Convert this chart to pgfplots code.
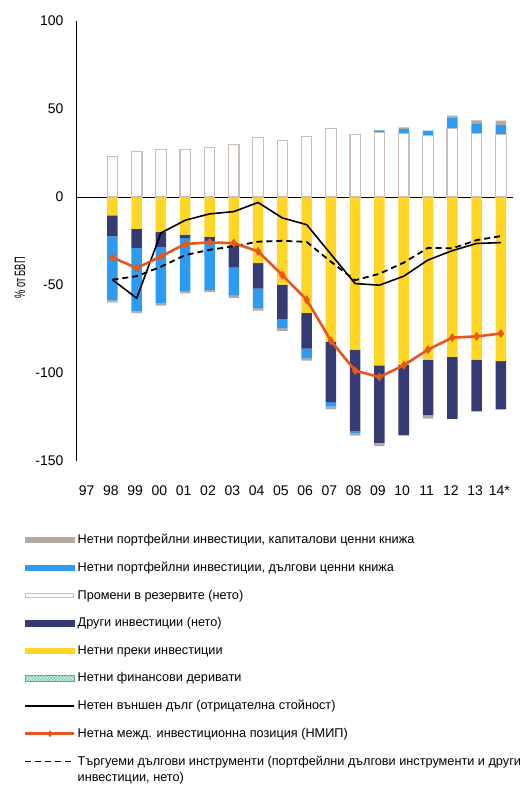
\documentclass[border=0pt]{standalone}
\usepackage{fontspec}
\setmainfont{Liberation Sans}
\usepackage{pgfplots}
\usepackage{pgfplotstable}
\pgfplotsset{compat=1.18}
\usetikzlibrary{patterns}

\definecolor{fdi}{HTML}{FFD624}
\definecolor{other}{HTML}{363B73}
\definecolor{debt}{HTML}{2E9BF2}
\definecolor{equity}{HTML}{B4AAA4}
\definecolor{resline}{HTML}{C9BEB9}
\definecolor{niip}{HTML}{E8561E}
\definecolor{deriv}{HTML}{7DD3B0}

% negative parts of the bars, 0 = 1997 ... 17 = 2014
\pgfplotstableread{
x fdi other debt equity
1 -10.5 -11.8 -36.5 -1.1
2 -18.1 -10.8 -36.1 -1.0
3 -20.0 -8.3 -31.9 -1.5
4 -21.4 -1.9 -30.2 -1.3
5 -22.7 -2.5 -27.5 -1.3
6 -27.0 -12.8 -16.3 -1.2
7 -37.5 -14.6 -11.0 -1.5
8 -49.8 -19.4 -5.3 -1.5
9 -65.9 -20.3 -5.3 -1.5
10 -82.3 -34.3 -2.5 -1.5
11 -86.7 -46.2 -1.2 -1.5
12 -95.6 -44.1 0 -1.9
13 -95.2 -40.3 0 0
14 -92.4 -31.6 0 -1.9
15 -90.9 -35.1 0 0
16 -92.4 -29.4 0 0
17 -93.2 -27.5 0 0
}\negtable

% positive parts
\pgfplotstableread{
x res debt equity
1 22.9 0 0
2 25.9 0 0
3 27.2 0 0
4 27.2 0 0
5 28.0 0 0
6 29.9 0 0
7 33.8 0 0
8 31.9 0 0
9 34.3 0 0
10 39.1 0 0
11 35.7 0 0
12 36.6 1.2 0
13 36.3 2.3 0.9
14 34.9 2.8 0
15 38.7 6.1 1.5
16 36.3 5.3 1.9
17 35.7 5.1 2.6
}\postable

% lines
\pgfplotstableread{
x ned niip tdi
1 -47.0 -34.3 -47.0
2 -57.5 -40.4 -45.0
3 -20.4 -33.7 -39.6
4 -13.2 -26.7 -33.0
5 -9.6 -25.8 -30.0
6 -8.3 -26.2 -28.0
7 -3.1 -30.9 -25.4
8 -11.9 -44.4 -24.9
9 -15.7 -58.4 -25.5
10 -32.5 -81.7 -36.8
11 -49.2 -98.7 -47.3
12 -50.1 -102.3 -43.6
13 -45.0 -95.6 -37.3
14 -35.8 -86.7 -28.9
15 -30.5 -79.9 -29.2
16 -26.4 -79.2 -24.5
17 -25.9 -77.6 -22.2
}\linetable

\pgfplotsset{
  base/.style={
    scale only axis, width=437pt, height=440pt,
    xmin=-0.5, xmax=17.5, ymin=-150, ymax=100,
    clip=false,
  },
}

\begin{document}
\begin{tikzpicture}[x=1pt,y=1pt]
\useasboundingbox (-76,-324) rectangle (448,461);

% negative stacks, axes and legend
\begin{axis}[base,
  ybar stacked, bar width=10.5pt,
  axis y line*=left, axis x line*=bottom,
  x axis line style={draw=none},
  y axis line style={line width=0.9pt},
  major tick length=0pt,
  xtick={0,...,17},
  xticklabels={97,98,99,00,01,02,03,04,05,06,07,08,09,10,11,12,13,14*},
  ytick={-150,-100,-50,0,50,100},
  extra y ticks={0}, extra y tick labels={},
  extra y tick style={grid=major, major grid style={black, line width=0.9pt}},
  tick label style={font=\fontsize{14}{16}\selectfont},
  /pgf/number format/assume math mode=true,
  yticklabel style={xshift=-9pt},
  xticklabel style={yshift=-21pt, xshift=-1.5pt},
  ylabel={\% от БВП},
  every axis y label/.style={at={(axis description cs:-0.128,0.416)}, anchor=center,
    rotate=90, xscale=0.62, font=\fontsize{15}{17}\selectfont},
  legend cell align=left,
  legend style={at={(axis description cs:-0.119,-0.1614)}, anchor=north west,
    draw=none, fill=none, inner sep=0pt, row sep=13pt,
    font=\fontsize{12.7}{15.6}\selectfont, nodes={inner sep=2pt}},
]
\addplot[fill=fdi, draw=none, forget plot] table[x=x, y=fdi] {\negtable};
\addplot[fill=other, draw=none, forget plot] table[x=x, y=other] {\negtable};
\addplot[fill=debt, draw=none, forget plot] table[x=x, y=debt] {\negtable};
\addplot[fill=equity, draw=none, forget plot] table[x=x, y=equity] {\negtable};

\addlegendimage{legend image code/.code={\fill[equity] (0pt,-2.8pt) rectangle (49pt,2.8pt);}}
\addlegendentry{Нетни портфейлни инвестиции, капиталови ценни книжа}
\addlegendimage{legend image code/.code={\fill[debt] (0pt,-2.8pt) rectangle (49pt,2.8pt);}}
\addlegendentry{Нетни портфейлни инвестиции, дългови ценни книжа}
\addlegendimage{legend image code/.code={\draw[draw=resline, fill=white, line width=1pt] (0.5pt,-2.3pt) rectangle (48.5pt,2.3pt);}}
\addlegendentry{Промени в резервите (нето)}
\addlegendimage{legend image code/.code={\fill[other] (0pt,-2.8pt) rectangle (49pt,2.8pt);}}
\addlegendentry{Други инвестиции (нето)}
\addlegendimage{legend image code/.code={\fill[fdi] (0pt,-2.8pt) rectangle (49pt,2.8pt);}}
\addlegendentry{Нетни преки инвестиции}
\addlegendimage{legend image code/.code={\fill[deriv] (0pt,-2.8pt) rectangle (49pt,2.8pt);
  \fill[pattern=north east lines, pattern color=white] (0pt,-2.8pt) rectangle (49pt,2.8pt);
  \draw[deriv!80!black, line width=0.4pt] (0pt,-2.8pt) rectangle (49pt,2.8pt);}}
\addlegendentry{Нетни финансови деривати}
\addlegendimage{legend image code/.code={\draw[black, line width=1.6pt] (0pt,0pt) -- (49pt,0pt);}}
\addlegendentry{Нетен външен дълг (отрицателна стойност)}
\addlegendimage{legend image code/.code={\draw[niip, line width=2.5pt] (0pt,0pt) -- (49pt,0pt);
  \fill[niip] (24.5pt,3pt) -- (27pt,0pt) -- (24.5pt,-3pt) -- (22pt,0pt) -- cycle;}}
\addlegendentry{Нетна межд. инвестиционна позиция (НМИП)}
\addlegendimage{legend image code/.code={\draw[black, line width=1.8pt, dash pattern=on 6pt off 4pt] (0pt,0pt) -- (49pt,0pt);}}
\addlegendentry{\raisebox{0pt}[\height][0pt]{\vtop{\hbox{Търгуеми дългови инструменти (портфейлни дългови инструменти и други}\hbox{инвестиции, нето)}}}}
\end{axis}

% positive stacks
\begin{axis}[base, hide axis, ybar stacked, bar width=10.5pt]
\addplot[fill=white, draw=resline, line width=1.2pt] table[x=x, y=res] {\postable};
\addplot[fill=debt, draw=none] table[x=x, y=debt] {\postable};
\addplot[fill=equity, draw=none] table[x=x, y=equity] {\postable};
\end{axis}

% lines
\begin{axis}[base, hide axis]
\addplot[black, line width=1.6pt, mark=none] table[x=x, y=ned] {\linetable};
\addplot[black, line width=1.8pt, mark=none, dash pattern=on 6pt off 4pt] table[x=x, y=tdi] {\linetable};
\addplot[niip, line width=2.6pt, mark=diamond*, mark size=4pt, mark options={solid, fill=niip, draw=niip, line width=0.5pt}] table[x=x, y=niip] {\linetable};
\end{axis}
\end{tikzpicture}
\end{document}
